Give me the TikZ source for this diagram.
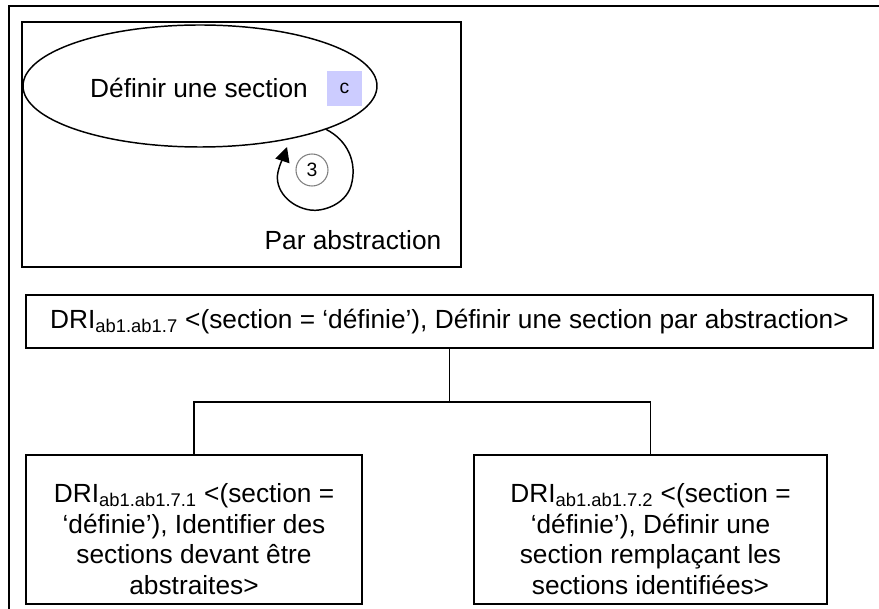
\documentclass[tikz,border=0pt]{standalone}
\usepackage{fontspec}
\setmainfont{Liberation Sans}
\usetikzlibrary{arrows.meta,shapes.geometric}
\definecolor{lavender}{RGB}{204,204,255}
\definecolor{ringgray}{RGB}{128,128,128}

\tikzset{
  dribox/.style={draw,line width=1pt,align=center,inner sep=0pt},
  bigfont/.style={font=\fontsize{19.7}{23}\selectfont},
  smallfont/.style={font=\fontsize{14.5}{16}\selectfont}
}

\begin{document}
\begin{tikzpicture}[x=.75pt,y=-.75pt,bigfont,line width=1.1pt]
  \useasboundingbox (0,0) rectangle (879,609);
  \draw[line width=1.4pt] (879,6) -- (9,6) -- (9,609);
  \draw (22,22) rectangle (461,267);
  \node[draw,ellipse,minimum width=265.5pt,minimum height=91.5pt] (task) at (200,86) {};
  \node (tasklabel) at (199,88) {Définir une section};
  \node[fill=lavender,minimum size=26.25pt,inner sep=0pt,smallfont] (ctag) at (344.5,88.5) {c};
  \node[circle,draw=ringgray,line width=.8pt,minimum size=24pt,inner sep=0pt,smallfont] (n3) at (312,170) {3};
  \coordinate (loopend) at (287,147);
  \draw[-{Triangle[length=11pt,width=11pt]}] (task.-19) .. controls (347,140) and (358,162) .. (351,186)
    .. controls (345,205) and (322,212) .. (310,210) .. controls (290,207) and (274,190) .. (278,172)
    .. controls (280,163) and (284,156) .. (loopend);
  \node (how) at (353,240) {Par abstraction};

  \node[dribox,minimum width=635.25pt,minimum height=39.75pt] (dri) at (449.5,321.5)
    {DRI\textsubscript{ab1.ab1.7} <(section = ‘définie’), Définir une section par abstraction>};
  \node[dribox,minimum width=252pt,minimum height=111.75pt] (dria) at (194,529.5) {};
  \node[align=center] (driatext) at (194,539)
    {DRI\textsubscript{ab1.ab1.7.1} <(section =\\ ‘définie’), Identifier des\\ sections devant être\\ abstraites>};
  \node[dribox,minimum width=264.75pt,minimum height=111.75pt] (drib) at (650.5,529.5) {};
  \node[align=center] (dribtext) at (650.5,539)
    {DRI\textsubscript{ab1.ab1.7.2} <(section =\\ ‘définie’), Définir une\\ section remplaçant les\\ sections identifiées>};
  \coordinate (bus) at (0,402);
  \draw (dri.south) -- (dri.south |- bus) -| (dria.north);
  \draw (dri.south |- bus) -| (drib.north);
\end{tikzpicture}
\end{document}
